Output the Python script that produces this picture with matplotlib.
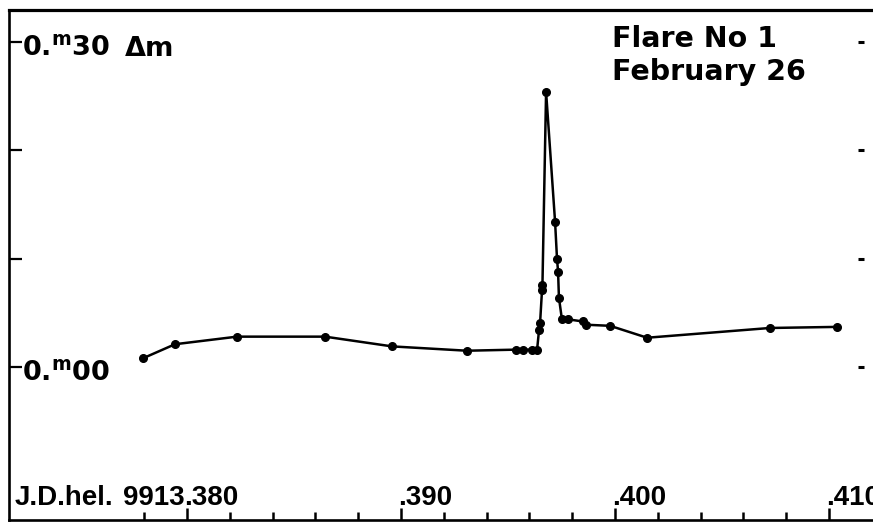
import matplotlib
matplotlib.use('Agg')
import matplotlib.pyplot as plt
import matplotlib.transforms as mtransforms

plt.rcParams['mathtext.fontset'] = 'dejavusans'

# J.D.hel. 2429913 + fraction of day, brightness change in magnitudes
jd = [0.37794, 0.37944, 0.38234, 0.38645, 0.38958, 0.39308, 0.39537, 0.39570,
      0.39612, 0.39636, 0.39645, 0.39650, 0.39659, 0.39661, 0.39678, 0.39720,
      0.39729, 0.39734, 0.39738, 0.39752, 0.39780, 0.39850, 0.39864, 0.39977,
      0.40150, 0.40724, 0.41037]
dm = [0.008, 0.021, 0.028, 0.028, 0.019, 0.015, 0.016, 0.016,
      0.016, 0.016, 0.034, 0.041, 0.071, 0.076, 0.254, 0.134,
      0.100, 0.088, 0.064, 0.044, 0.044, 0.042, 0.039, 0.038,
      0.027, 0.036, 0.037]

x_major = [0.380, 0.390, 0.400, 0.410]
x_major_labels = [".380", ".390", ".400", ".410"]
x_minor = [0.378, 0.382, 0.384, 0.386, 0.388, 0.392, 0.394, 0.396, 0.398,
           0.402, 0.404, 0.406, 0.408]
y_ticks = [0.00, 0.10, 0.20, 0.30]
y_labels = {0.30: "0.$^\\mathbf{m}$30", 0.00: "0.$^\\mathbf{m}$00"}

narrow = ['Liberation Sans', 'DejaVu Sans']

fig = plt.figure(figsize=(8.73, 5.23), dpi=100)
ax = fig.add_axes([9 / 873, 3 / 523, 855 / 873, 510 / 523])

ax.plot(jd, dm, color='black', lw=1.8, marker='o', ms=5.5)

x0, x1 = 0.371682, 0.411636
ax.set_xlim(x0, x1)
ax.set_ylim(-0.1413, 0.3296)

ax.spines['right'].set_visible(False)
for side, lw in [('left', 1.9), ('top', 2.3), ('bottom', 1.9)]:
    ax.spines[side].set_linewidth(lw)
ax.spines['top'].set_bounds(x0, 0.4121)
ax.spines['bottom'].set_bounds(x0, 0.4121)

ax.set_xticks(x_major)
ax.set_xticks(x_minor, minor=True)
ax.tick_params(axis='x', which='major', direction='in', length=9, width=1.8,
               labelbottom=False, top=False)
ax.tick_params(axis='x', which='minor', direction='in', length=6, width=1.8,
               top=False)
ax.set_yticks(y_ticks)
ax.tick_params(axis='y', direction='in', length=9, width=1.6, left=True,
               right=True, labelleft=False)
for t in ax.yaxis.get_major_ticks():
    t.tick2line.set_markersize(4)
    t.tick2line.set_markeredgewidth(2.2)

# y labels inside the frame
for val, lab in y_labels.items():
    ax.annotate(lab, xy=(0.0155, val), xycoords=ax.get_yaxis_transform(),
                xytext=(0, -13.5), textcoords='offset pixels', va='baseline',
                ha='left', fontsize=19.5, fontweight='bold')
ax.annotate("Δm", xy=((125 - 9) / 855, 0.30), xycoords=ax.get_yaxis_transform(),
            xytext=(0, -13.5), textcoords='offset pixels', va='baseline',
            ha='left', fontsize=19.5, fontweight='bold')

ax.text((612 - 9) / 855, 0.9275, "Flare No 1", transform=ax.transAxes,
        va='baseline', ha='left', fontsize=20.5, fontweight='bold')
ax.text((612 - 9) / 855, 0.8627, "February 26", transform=ax.transAxes,
        va='baseline', ha='left', fontsize=20.5, fontweight='bold')

# x labels sitting above the ticks
blend = mtransforms.blended_transform_factory(ax.transData, ax.transAxes)
base_y = 0.0294
for xv, lab in zip(x_major, x_major_labels):
    ax.annotate(lab, xy=(xv, base_y), xycoords=blend, xytext=(-3, 0),
                textcoords='offset pixels', va='baseline', ha='left',
                fontsize=20, fontweight='bold', family=narrow)
ax.annotate("9913", xy=(x_major[0], base_y), xycoords=blend, xytext=(-2, 0),
            textcoords='offset pixels', va='baseline', ha='right',
            fontsize=20, fontweight='bold', family=narrow)
ax.text((15 - 9) / 855, base_y, "J.D.hel.", transform=ax.transAxes,
        va='baseline', ha='left', fontsize=20, fontweight='bold', family=narrow)

fig.savefig("out.png", dpi=100)
